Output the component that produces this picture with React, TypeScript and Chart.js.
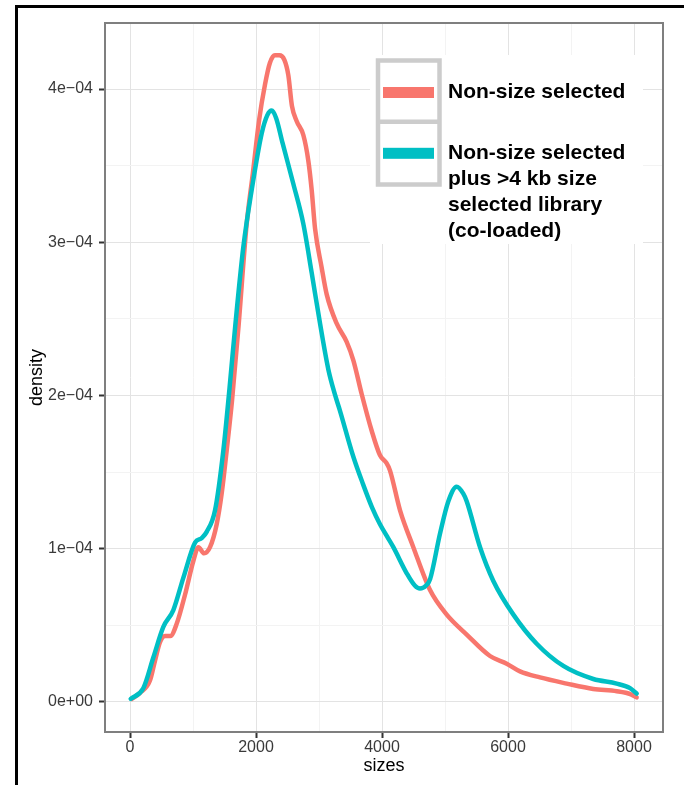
import React, { useEffect, useRef } from 'react';
import { Chart, registerables } from 'chart.js';

Chart.register(...registerables);

// ---------- data ----------
const seriesLabels = [
  'Non-size selected',
  'Non-size selected plus >4 kb size selected library (co-loaded)',
];
const legendLines = [
  ['Non-size selected'],
  ['Non-size selected', 'plus >4 kb size', 'selected library', '(co-loaded)'],
];
const seriesColors = ['#F8766D', '#00BFC4'];

const sizesRed = [
  27, 159, 317, 397, 476, 556, 640, 741, 873, 1005, 1085, 1175, 1270, 1376, 1455, 1534,
  1620, 1720, 1852, 1950, 2050, 2143, 2220, 2300, 2370, 2450, 2513, 2570, 2646, 2751,
  2831, 2884, 2937, 3040, 3122, 3280, 3439, 3545, 3677, 3836, 3968, 4070, 4127, 4286,
  4497, 4762, 5027, 5344, 5714, 5979, 6190, 6508, 6931, 7354, 7725, 7950, 8042,
];
const densityRed = [
  0.02e-4, 0.06e-4, 0.14e-4, 0.27e-4, 0.39e-4, 0.43e-4, 0.43e-4, 0.51e-4, 0.70e-4, 0.92e-4,
  1.01e-4, 0.97e-4, 1.01e-4, 1.16e-4, 1.36e-4, 1.64e-4, 1.97e-4, 2.44e-4, 3.12e-4, 3.45e-4,
  3.80e-4, 4.03e-4, 4.17e-4, 4.22e-4, 4.22e-4, 4.19e-4, 4.09e-4, 3.89e-4, 3.79e-4, 3.70e-4,
  3.53e-4, 3.34e-4, 3.09e-4, 2.84e-4, 2.66e-4, 2.47e-4, 2.35e-4, 2.23e-4, 2.01e-4, 1.77e-4,
  1.61e-4, 1.56e-4, 1.51e-4, 1.25e-4, 1.01e-4, 0.73e-4, 0.57e-4, 0.44e-4, 0.30e-4, 0.25e-4,
  0.20e-4, 0.16e-4, 0.12e-4, 0.085e-4, 0.07e-4, 0.05e-4, 0.03e-4,
];

const sizesTeal = [
  11, 211, 370, 529, 688, 846, 1032, 1138, 1217, 1349, 1481, 1580, 1667, 1799, 1931, 2090,
  2180, 2249, 2320, 2420, 2593, 2751, 2884, 3016, 3148, 3250, 3333, 3545, 3700, 3841, 3968,
  4080, 4180, 4392, 4520, 4603, 4700, 4762, 4921, 5053, 5185, 5290, 5344, 5556, 5767, 6085,
  6455, 6878, 7354, 7725, 7937, 8042,
];
const densityTeal = [
  0.02e-4, 0.09e-4, 0.29e-4, 0.49e-4, 0.60e-4, 0.81e-4, 1.04e-4, 1.07e-4, 1.11e-4, 1.25e-4,
  1.64e-4, 2.05e-4, 2.44e-4, 2.97e-4, 3.34e-4, 3.71e-4, 3.83e-4, 3.86e-4, 3.81e-4, 3.65e-4,
  3.38e-4, 3.12e-4, 2.80e-4, 2.47e-4, 2.17e-4, 2.01e-4, 1.90e-4, 1.60e-4, 1.42e-4, 1.27e-4,
  1.16e-4, 1.08e-4, 1.01e-4, 0.84e-4, 0.76e-4, 0.74e-4, 0.76e-4, 0.80e-4, 1.10e-4, 1.31e-4,
  1.405e-4, 1.36e-4, 1.31e-4, 1.01e-4, 0.79e-4, 0.57e-4, 0.38e-4, 0.235e-4, 0.15e-4, 0.12e-4,
  0.09e-4, 0.055e-4,
];

const xMajorTicks = [0, 2000, 4000, 6000, 8000];
const xTickLabels = ['0', '2000', '4000', '6000', '8000'];
const xMinorTicks = [1000, 3000, 5000, 7000];
const yMajorTicks = [0, 0.0001, 0.0002, 0.0003, 0.0004];
const yTickLabels = ['0e+00', '1e\u221204', '2e\u221204', '3e\u221204', '4e\u221204'];
const yMinorTicks = [0.00005, 0.00015, 0.00025, 0.00035];

const xTitle = 'sizes';
const yTitle = 'density';

// ---------- helpers ----------
const FONT = '"Liberation Sans", Arial, Helvetica, sans-serif';
const isMajor = (list: number[], v: number) => list.some((m) => Math.abs(m - v) < 1e-9);
const labelFor = (list: number[], labels: string[], v: number) => {
  const i = list.findIndex((m) => Math.abs(m - v) < 1e-9);
  return i >= 0 ? labels[i] : '';
};

const framePlugin = {
  id: 'outerFrame',
  beforeDraw(chart: any) {
    const ctx = chart.ctx;
    ctx.save();
    ctx.fillStyle = '#ffffff';
    ctx.fillRect(0, 0, chart.width, chart.height);
    ctx.fillStyle = '#000000';
    ctx.fillRect(15, 5, chart.width - 15, 3);
    ctx.fillRect(15, 5, 3, chart.height - 5);
    ctx.restore();
  },
  afterDatasetsDraw(chart: any) {
    const { ctx, chartArea } = chart;
    ctx.save();
    ctx.strokeStyle = '#7f7f7f';
    ctx.lineWidth = 2;
    ctx.strokeRect(chartArea.left, chartArea.top, chartArea.right - chartArea.left, chartArea.bottom - chartArea.top);
    ctx.restore();
  },
};

const legendPlugin = {
  id: 'boxLegend',
  afterDraw(chart: any) {
    const ctx = chart.ctx;
    ctx.save();
    ctx.fillStyle = '#ffffff';
    ctx.fillRect(370, 55, 273, 189);
    // key frame
    ctx.strokeStyle = '#cccccc';
    ctx.lineWidth = 4.5;
    ctx.strokeRect(378, 60.5, 61.5, 124);
    ctx.beginPath();
    ctx.moveTo(378, 121.7);
    ctx.lineTo(439.5, 121.7);
    ctx.stroke();
    // keys
    const keyY = [92.5, 153.3];
    chart.data.datasets.forEach((ds: any, i: number) => {
      ctx.fillStyle = ds.borderColor;
      ctx.fillRect(383, keyY[i] - 5.5, 51, 11);
    });
    // labels
    ctx.fillStyle = '#000000';
    ctx.font = `bold 21px ${FONT}`;
    ctx.textAlign = 'left';
    ctx.textBaseline = 'middle';
    legendLines.forEach((lines, i) => {
      lines.forEach((t, j) => {
        ctx.fillText(t, 448, keyY[i] + j * 26);
      });
    });
    ctx.restore();
  },
};

export default function App() {
  const ref = useRef<HTMLCanvasElement>(null);

  useEffect(() => {
    const canvas = ref.current;
    if (!canvas) return;
    const tickFont = { family: FONT, size: 16 };
    const chart = new Chart(canvas, {
      type: 'line',
      data: {
        datasets: [
          {
            label: seriesLabels[0],
            data: sizesRed.map((x, i) => ({ x, y: densityRed[i] })),
            borderColor: seriesColors[0],
            backgroundColor: seriesColors[0],
            borderWidth: 4.5,
            pointRadius: 0,
            cubicInterpolationMode: 'monotone',
            borderCapStyle: 'round',
            borderJoinStyle: 'round',
            fill: false,
            order: 1,
          },
          {
            label: seriesLabels[1],
            data: sizesTeal.map((x, i) => ({ x, y: densityTeal[i] })),
            borderColor: seriesColors[1],
            backgroundColor: seriesColors[1],
            borderWidth: 4.5,
            pointRadius: 0,
            cubicInterpolationMode: 'monotone',
            borderCapStyle: 'round',
            borderJoinStyle: 'round',
            fill: false,
            order: 0,
          },
        ],
      },
      options: {
        responsive: false,
        animation: false,
        devicePixelRatio: 1,
        layout: { padding: { top: 23, right: 21, left: 0, bottom: 0 } },
        plugins: { legend: { display: false }, tooltip: { enabled: false } },
        scales: {
          x: {
            type: 'linear',
            min: -397,
            max: 8460,
            afterFit: (s: any) => {
              s.height = 53;
            },
            afterBuildTicks: (s: any) => {
              s.ticks = [...xMajorTicks, ...xMinorTicks].sort((a, b) => a - b).map((v) => ({ value: v }));
            },
            ticks: {
              autoSkip: false,
              maxRotation: 0,
              padding: 0,
              color: '#3a3a3a',
              font: tickFont,
              callback: (v: any) => labelFor(xMajorTicks, xTickLabels, Number(v)),
            },
            grid: {
              color: (c: any) => (c.tick && isMajor(xMajorTicks, c.tick.value) ? '#e3e3e3' : '#f3f3f3'),
              lineWidth: 1,
              tickColor: (c: any) => (c.tick && isMajor(xMajorTicks, c.tick.value) ? '#333333' : 'rgba(0,0,0,0)'),
              tickWidth: 2,
              tickLength: 6,
            },
            border: { display: false },
            title: {
              display: true,
              text: xTitle,
              color: '#000000',
              font: { family: FONT, size: 18 },
              padding: { top: 0, bottom: 8 },
            },
          },
          y: {
            type: 'linear',
            min: -0.196e-4,
            max: 4.431e-4,
            afterFit: (s: any) => {
              s.width = 105;
            },
            afterBuildTicks: (s: any) => {
              s.ticks = [...yMajorTicks, ...yMinorTicks].sort((a, b) => a - b).map((v) => ({ value: v }));
            },
            ticks: {
              autoSkip: false,
              padding: 6,
              color: '#3a3a3a',
              font: tickFont,
              callback: (v: any) => labelFor(yMajorTicks, yTickLabels, Number(v)),
            },
            grid: {
              color: (c: any) => (c.tick && isMajor(yMajorTicks, c.tick.value) ? '#e3e3e3' : '#f3f3f3'),
              lineWidth: 1,
              tickColor: (c: any) => (c.tick && isMajor(yMajorTicks, c.tick.value) ? '#333333' : 'rgba(0,0,0,0)'),
              tickWidth: 2,
              tickLength: 6,
            },
            border: { display: false },
            title: {
              display: true,
              text: yTitle,
              color: '#000000',
              font: { family: FONT, size: 18 },
              padding: { top: 26, bottom: 0 },
            },
          },
        },
      },
      plugins: [framePlugin, legendPlugin],
    } as any);
    return () => chart.destroy();
  }, []);

  return (
    <canvas
      ref={ref}
      width={684}
      height={785}
      style={{ position: 'fixed', left: 0, top: 0, width: 684, height: 785, display: 'block' }}
    />
  );
}
